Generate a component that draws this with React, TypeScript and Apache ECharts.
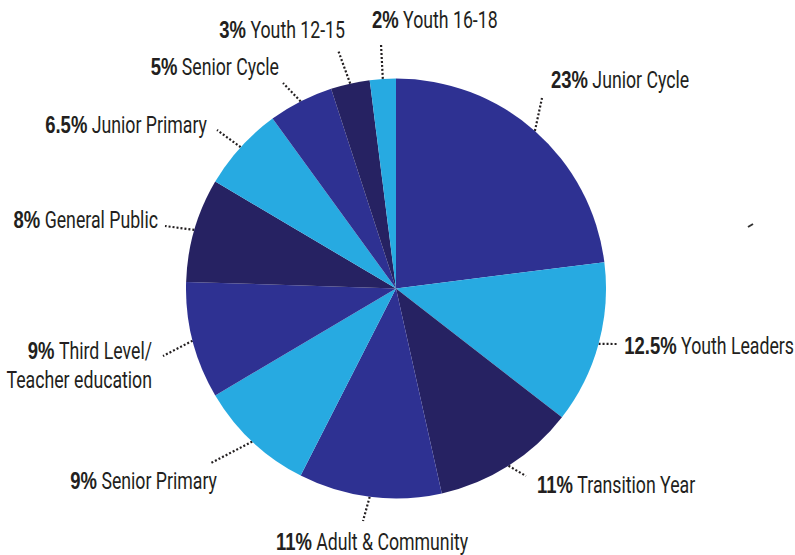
import React, { useEffect, useRef } from "react";
import * as echarts from "echarts";

const categories = [
  "Junior Cycle",
  "Youth Leaders",
  "Transition Year",
  "Adult & Community",
  "Senior Primary",
  "Third Level/\nTeacher education",
  "General Public",
  "Junior Primary",
  "Senior Cycle",
  "Youth 12-15",
  "Youth 16-18",
];
const values = [23, 12.5, 11, 11, 9, 9, 8, 6.5, 5, 3, 2];

const BLUE = "#2e3192";
const LIGHT = "#27aae1";
const NAVY = "#262262";
const sliceColors = [BLUE, LIGHT, NAVY, BLUE, LIGHT, BLUE, NAVY, LIGHT, BLUE, NAVY, LIGHT];

// label layout: [lineEndX, lineEndY, labelX, labelY, align]
const labelLayouts: [number, number, number, number, string][] = [
  [542, 98, 551, 80, "left"],
  [617, 344, 794, 346, "right"],
  [526, 476, 537, 485, "left"],
  [363, 521, 372, 542, "center"],
  [211, 463, 217, 481, "right"],
  [163, 356, 152, 366, "right"],
  [165, 226, 158, 220, "right"],
  [217, 130, 207, 125, "right"],
  [283, 83, 279, 67, "right"],
  [338, 50, 345, 30, "right"],
  [381, 44, 372, 20, "left"],
];

const CX = 396;
const CY = 288.5;
const R = 210;
const TEXT = "#231f20";
const FONT = "Roboto, 'Noto Sans', sans-serif";
const BOLD_FONT = "'Liberation Sans', Arial, sans-serif";
const FS = 23;
const BOLD_FS = 24;
const SCALE_X = 0.77;

export default function App() {
  const ref = useRef<HTMLDivElement>(null);
  useEffect(() => {
    document.body.style.margin = "0";
    const chart = echarts.init(ref.current!, null, { renderer: "svg" });
    const total = values.reduce((a, b) => a + b, 0);
    let cum = 0;
    const graphics: any[] = [];
    categories.forEach((name, i) => {
      const mid = ((90 - (360 * (cum + values[i] / 2)) / total) * Math.PI) / 180;
      cum += values[i];
      const l = labelLayouts[i];
      graphics.push({
        type: "line",
        silent: true,
        shape: { x1: CX + R * Math.cos(mid), y1: CY - R * Math.sin(mid), x2: l[0], y2: l[1] },
        style: { stroke: TEXT, lineWidth: 2.2, lineDash: [2, 2] },
      });
      const lines = name.split("\n");
      const text =
        "{b|" + values[i] + "%} {n|" + lines[0] + "}" +
        lines.slice(1).map((s) => "\n{n|" + s + "}").join("");
      graphics.push({
        type: "text",
        silent: true,
        x: l[2],
        y: l[3],
        scaleX: SCALE_X,
        style: {
          text,
          align: l[4],
          verticalAlign: "middle",
          fill: TEXT,
          fontFamily: FONT,
          fontSize: FS,
          lineHeight: 29,
          rich: {
            b: { fontWeight: "bold", fontFamily: BOLD_FONT, fontSize: BOLD_FS, fill: TEXT, lineHeight: 29 },
            n: { fontFamily: FONT, fontSize: FS, fill: TEXT, lineHeight: 29 },
          },
        },
      });
    });
    graphics.push({
      type: "line",
      silent: true,
      shape: { x1: 748, y1: 227, x2: 753, y2: 224 },
      style: { stroke: "#333333", lineWidth: 2 },
    });
    chart.setOption({
      animation: false,
      backgroundColor: "#ffffff",
      graphic: graphics,
      series: [
        {
          type: "pie",
          center: [CX, CY],
          radius: R,
          startAngle: 90,
          clockwise: true,
          silent: true,
          itemStyle: { borderWidth: 0 },
          label: { show: false },
          labelLine: { show: false },
          data: categories.map((c, i) => ({
            name: c,
            value: values[i],
            itemStyle: { color: sliceColors[i] },
          })),
        },
      ],
    });
    return () => chart.dispose();
  }, []);
  return <div ref={ref} style={{ width: 795, height: 555 }} />;
}
